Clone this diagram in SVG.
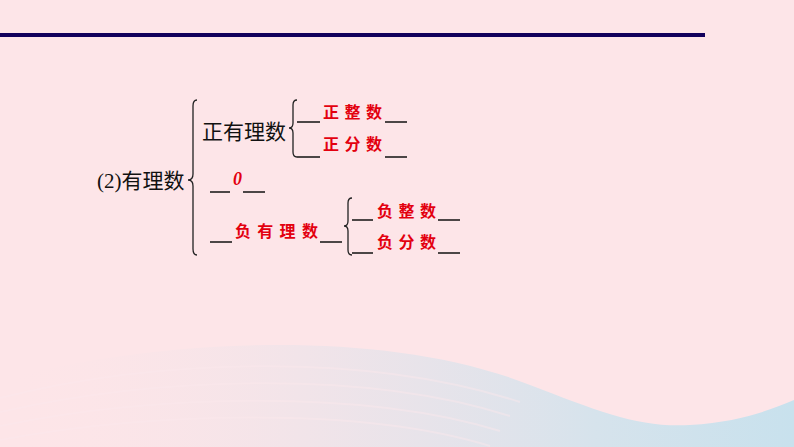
<svg xmlns="http://www.w3.org/2000/svg" width="794" height="447" viewBox="0 0 794 447">
  <style>
    .blk { font-family: "Liberation Serif", "Noto Sans CJK SC", serif; font-size: 21px; fill: #111; }
    .red { font-family: "Noto Sans CJK SC", sans-serif; font-weight: bold; font-size: 16px; fill: #e3000f; letter-spacing: 5.5px; }
    .ul { stroke: #111; stroke-width: 1.5; fill: none; }
    .brace { stroke: #222; stroke-width: 1.3; fill: none; }
  </style>
  <defs>
    <linearGradient id="wave" x1="0" y1="0" x2="1" y2="0">
      <stop offset="0" stop-color="#fde5e8" stop-opacity="0"/>
      <stop offset="0.45" stop-color="#e6e3ea" stop-opacity="0.7"/>
      <stop offset="0.75" stop-color="#d6e3ec"/>
      <stop offset="1" stop-color="#c8e1ed"/>
    </linearGradient>
  </defs>
  <rect width="794" height="447" fill="#fde5e8"/>
  <g id="background-wave">
    <path d="M0,447 L0,380 C150,340 380,325 530,385 C600,412 640,428 690,425 C740,422 770,410 794,400 L794,447 Z" fill="url(#wave)"/>
    <g stroke="#fce9ed" stroke-width="2" fill="none" opacity="0.45">
      <path d="M0,398 C150,360 360,350 520,402"/>
      <path d="M0,412 C150,378 360,368 510,416"/>
      <path d="M0,426 C150,395 360,388 500,431"/>
      <path d="M0,440 C150,412 360,406 490,446"/>
    </g>
  </g>
  <rect id="top-rule" x="0" y="33" width="705" height="4" fill="#12005c"/>

  <g id="connectors">
    <path class="brace" d="M197,100 Q193,100 193,106 L193,174 Q193,180 188,180 Q193,180 193,186 L193,249 Q193,255 197,255"/>
    <path class="brace" d="M297,100 Q293,100 293,105 L293,123 Q293,128 289,128 Q293,128 293,133 L293,152 Q293,157 297,157"/>
    <path class="brace" d="M352,198 Q348,198 348,203 L348,221 Q348,226 344,226 Q348,226 348,231 L348,250 Q348,255 352,255"/>
  </g>

  <g id="root"><text class="blk" x="97" y="188">(2)有理数</text></g>

  <g id="positive-rational"><text class="blk" x="202" y="139">正有理数</text></g>

  <g id="positive-integer">
    <line class="ul" x1="297" y1="122" x2="320" y2="122"/>
    <text class="red" x="323" y="118">正整数</text>
    <line class="ul" x1="385" y1="122" x2="407" y2="122"/>
  </g>

  <g id="positive-fraction">
    <line class="ul" x1="297" y1="157" x2="320" y2="157"/>
    <text class="red" x="323" y="150">正分数</text>
    <line class="ul" x1="385" y1="157" x2="407" y2="157"/>
  </g>

  <g id="zero">
    <line class="ul" x1="210" y1="192" x2="230" y2="192"/>
    <text x="233" y="185" font-family="Liberation Serif, serif" font-size="18" font-weight="bold" font-style="italic" fill="#e3000f">0</text>
    <line class="ul" x1="243" y1="192" x2="265" y2="192"/>
  </g>

  <g id="negative-rational">
    <line class="ul" x1="210" y1="242" x2="232" y2="242"/>
    <text class="red" x="235" y="237" style="letter-spacing:6.3px">负有理数</text>
    <line class="ul" x1="320" y1="242" x2="342" y2="242"/>
  </g>

  <g id="negative-integer">
    <line class="ul" x1="352" y1="220" x2="373" y2="220"/>
    <text class="red" x="377" y="217">负整数</text>
    <line class="ul" x1="438" y1="220" x2="460" y2="220"/>
  </g>

  <g id="negative-fraction">
    <line class="ul" x1="352" y1="253" x2="373" y2="253"/>
    <text class="red" x="377" y="248">负分数</text>
    <line class="ul" x1="438" y1="253" x2="460" y2="253"/>
  </g>
</svg>
